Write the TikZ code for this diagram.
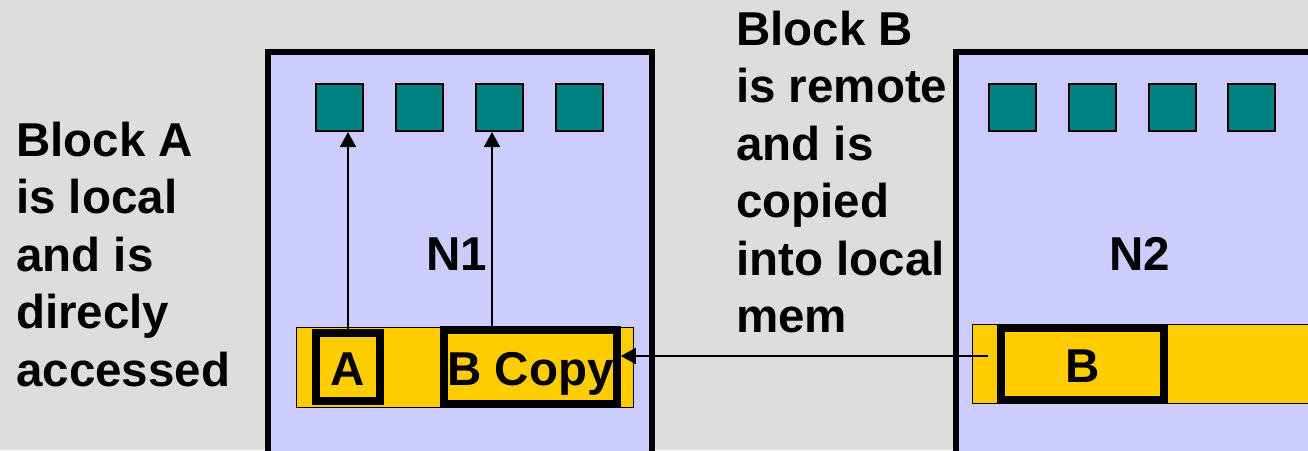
\documentclass[tikz,border=0pt]{standalone}
\usepackage{fontspec}
\setmainfont{Liberation Sans}
\usetikzlibrary{arrows.meta}
\definecolor{bggray}{HTML}{DDDDDD}
\definecolor{nodeblue}{HTML}{CCCCFF}
\definecolor{coreteal}{HTML}{008080}
\definecolor{memyellow}{HTML}{FFCC00}
\tikzset{
  frame/.style={draw=black, fill=nodeblue, line width=6pt, inner sep=0pt},
  core/.style={draw=black, fill=coreteal, line width=2pt, inner sep=0pt, minimum size=47pt},
  membar/.style={draw=black, fill=memyellow, line width=1.2pt, inner sep=0pt},
  blk/.style={draw=black, fill=memyellow, line width=7.5pt, inner sep=0pt, text height=40pt, text depth=4pt},
  txt/.style={inner sep=0pt, font=\fontsize{47.5}{57.5}\selectfont\bfseries},
  arr/.style={line width=1.5pt, -{Triangle[length=15pt,width=16pt]}}
}
\begin{document}
\begin{tikzpicture}[x=1pt,y=-1pt]
\useasboundingbox (0,0) rectangle (1308,450);
\fill[bggray] (0,0) rectangle (1308,450);
\clip (0,0) rectangle (1308,450);
% node frames
\node[frame, minimum width=384pt, minimum height=418pt] (n1) at (460,261) {};
\node[frame, minimum width=404pt, minimum height=418pt] (n2) at (1158,261) {};
% cores
\node[core] (s11) at (339.5,107.5) {};
\node[core] (s12) at (419.5,107.5) {};
\node[core] (s13) at (499.5,107.5) {};
\node[core] (s14) at (579.5,107.5) {};
\node[core] (s21) at (1012.5,107.5) {};
\node[core] (s22) at (1092,107.5) {};
\node[core] (s23) at (1172,107.5) {};
\node[core] (s24) at (1251.5,107.5) {};
% memories
\node[membar, minimum width=337pt, minimum height=80pt] (bar1) at (465,367.5) {};
\node[membar, minimum width=387pt, minimum height=79pt] (bar2) at (1166,364) {};
% blocks
\node[blk, txt, minimum width=64pt, minimum height=68pt] (abox) at (348,367) {A};
\node[blk, txt, minimum width=173pt, minimum height=74pt] (bcopy) at (530.5,367) {B Copy};
\node[blk, txt, minimum width=163pt, minimum height=72pt] (bbox) at (1082.5,364) {B};
% labels
\node[txt, anchor=base] (l1) at (457,270) {N1};
\node[txt, anchor=base] (l2) at (1140,270) {N2};
\node[txt, anchor=base west] (ta) at (16,156) {\begin{tabular}[t]{@{}l@{}}Block A\\ is local\\ and is\\ direcly\\ accessed\end{tabular}};
\node[txt, anchor=base west] (tb) at (736,45) {\begin{tabular}[t]{@{}l@{}}Block B\\ is remote\\ and is\\ copied\\ into local\\ mem\end{tabular}};
% connectors
\draw[arr] (abox.north) -- (abox.north |- s11.south);
\coordinate (c2) at (492,327);
\draw[arr] (c2) -- (c2 |- s13.south);
\coordinate (c3) at (988,356);
\draw[arr] (c3) -- (c3 -| bcopy.east);
\end{tikzpicture}
\end{document}
